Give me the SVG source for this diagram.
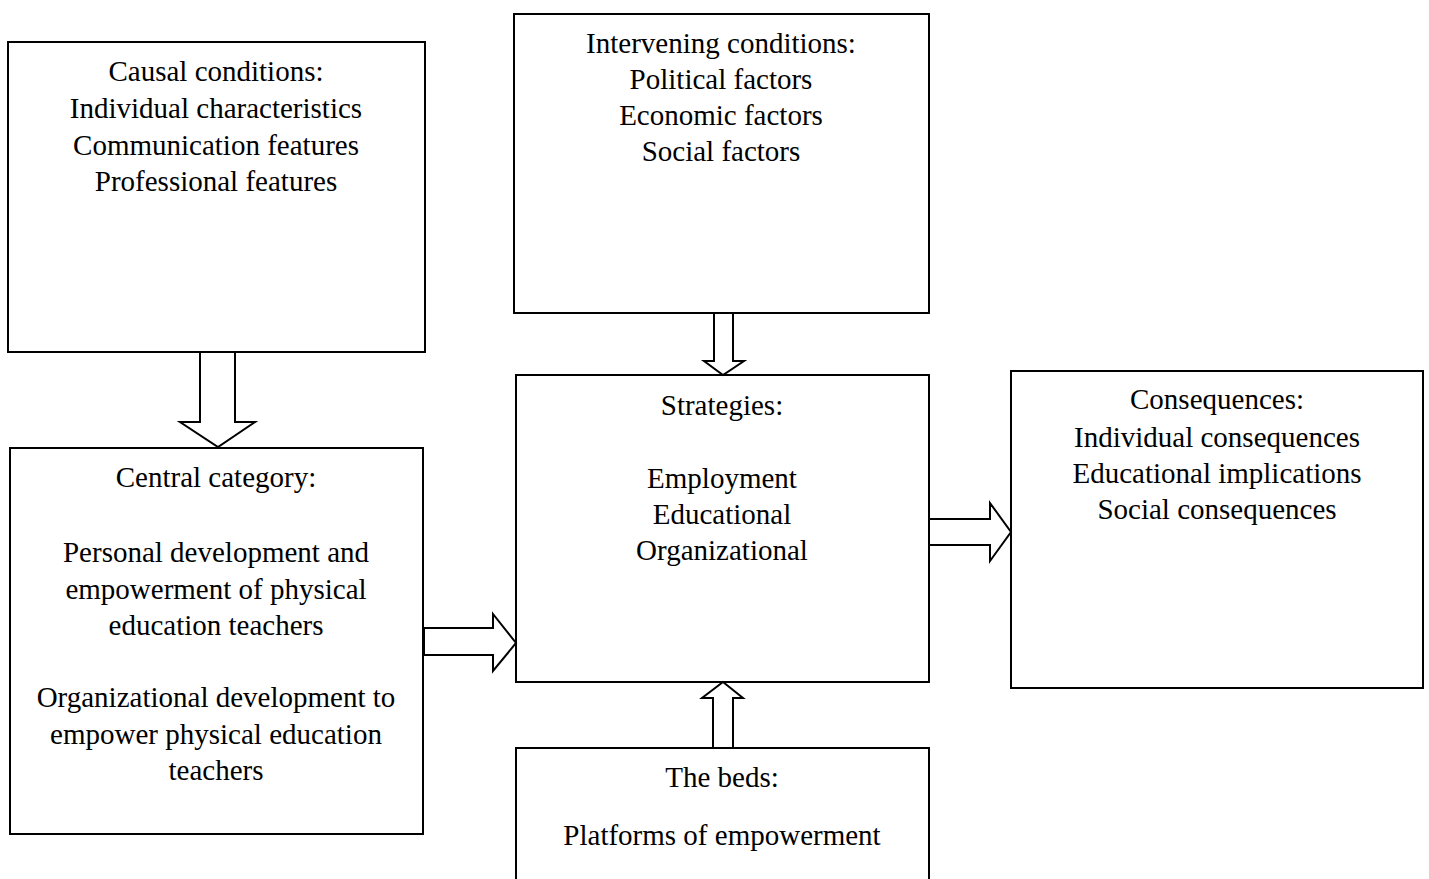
<svg xmlns="http://www.w3.org/2000/svg" width="1429" height="879" viewBox="0 0 1429 879">
<style>
.box{fill:#fff;stroke:#000;stroke-width:2}
.arr{fill:#fff;stroke:#000;stroke-width:2;stroke-linejoin:miter}
text{font-family:"Liberation Serif","Times New Roman",serif;font-size:29px;fill:#000;text-anchor:middle}
</style>
<rect width="1429" height="879" fill="#fff"/>
<g id="causal">
<rect class="box" x="8" y="42" width="417" height="310"/>
<text x="216" y="81">Causal conditions:</text>
<text x="216" y="118">Individual characteristics</text>
<text x="216" y="155">Communication features</text>
<text x="216" y="191">Professional features</text>
</g>
<g id="intervening">
<rect class="box" x="514" y="14" width="415" height="299"/>
<text x="721" y="53">Intervening conditions:</text>
<text x="721" y="89">Political factors</text>
<text x="721" y="125">Economic factors</text>
<text x="721" y="161">Social factors</text>
</g>
<g id="strategies">
<rect class="box" x="516" y="375" width="413" height="307"/>
<text x="722" y="415">Strategies:</text>
<text x="722" y="488">Employment</text>
<text x="722" y="524">Educational</text>
<text x="722" y="560">Organizational</text>
</g>
<g id="consequences">
<rect class="box" x="1011" y="371" width="412" height="317"/>
<text x="1217" y="409">Consequences:</text>
<text x="1217" y="447">Individual consequences</text>
<text x="1217" y="483">Educational implications</text>
<text x="1217" y="519">Social consequences</text>
</g>
<g id="central">
<rect class="box" x="10" y="448" width="413" height="386"/>
<text x="216" y="487">Central category:</text>
<text x="216" y="562">Personal development and</text>
<text x="216" y="599">empowerment of physical</text>
<text x="216" y="635">education teachers</text>
<text x="216" y="707">Organizational development to</text>
<text x="216" y="744">empower physical education</text>
<text x="216" y="780">teachers</text>
</g>
<g id="beds">
<rect class="box" x="516" y="748" width="413" height="140"/>
<text x="722" y="787">The beds:</text>
<text x="722" y="845">Platforms of empowerment</text>
</g>
<g id="connectors">
<polygon class="arr" points="200,352 235,352 235,422 255,422 218,447 180,422 200,422"/>
<polygon class="arr" points="424,628 493,628 493,614 516,643 493,671 493,655 424,655"/>
<polygon class="arr" points="714,313 733,313 733,361 744,361 723,375 704,361 714,361"/>
<polygon class="arr" points="713,748 733,748 733,698 743,698 723,682 702,698 713,698"/>
<polygon class="arr" points="929,519 990,519 990,503 1011,532 990,561 990,545 929,545"/>
</g>
</svg>
